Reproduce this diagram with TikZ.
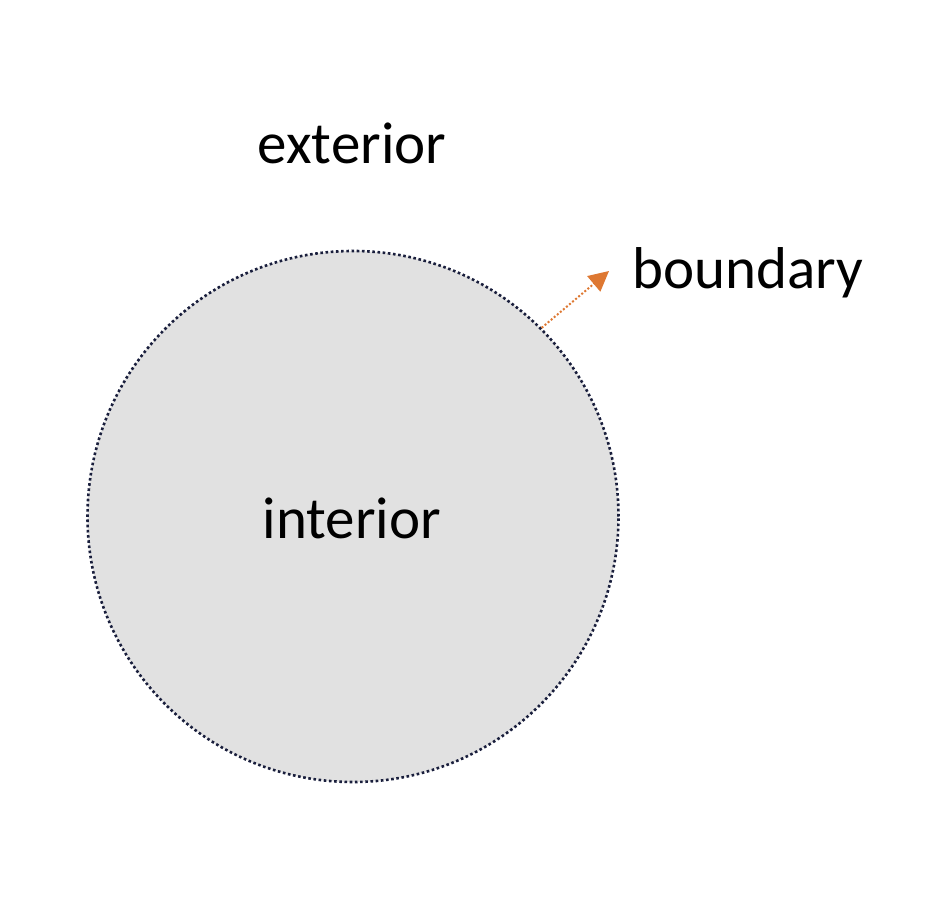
\documentclass[tikz,border=0pt]{standalone}
\usepackage{fontspec}
\setmainfont{Carlito}
\usetikzlibrary{arrows.meta}
\definecolor{fillgray}{RGB}{225,225,225}
\definecolor{rimblue}{RGB}{25,30,60}
\definecolor{arroworange}{RGB}{222,120,50}
\tikzset{
  lbl/.style={font=\fontsize{59}{59}\selectfont, inner sep=0pt},
  region/.style={circle, draw=rimblue, line width=2.6pt, dash pattern=on 2.6pt off 2.6pt, fill=fillgray, minimum size=531pt, inner sep=0pt},
  pointer/.style={draw=arroworange, line width=2pt, dash pattern=on 2pt off 2pt, -{Triangle[length=20pt,width=20pt,fill=arroworange]}}
}
\begin{document}
\begin{tikzpicture}[x=1pt,y=-1pt]
\useasboundingbox (0,0) rectangle (932,901);
\node[region] (disk) at (353,516.5) {};
\node[lbl] (int) at (352,518) {interior};
\node[lbl] (ext) at (352,143) {exterior};
\node[lbl] (bnd) at (748,273) {boundary};
\coordinate (tip) at (609,271);
\draw[pointer] (disk.45) -- (tip);
\end{tikzpicture}
\end{document}
